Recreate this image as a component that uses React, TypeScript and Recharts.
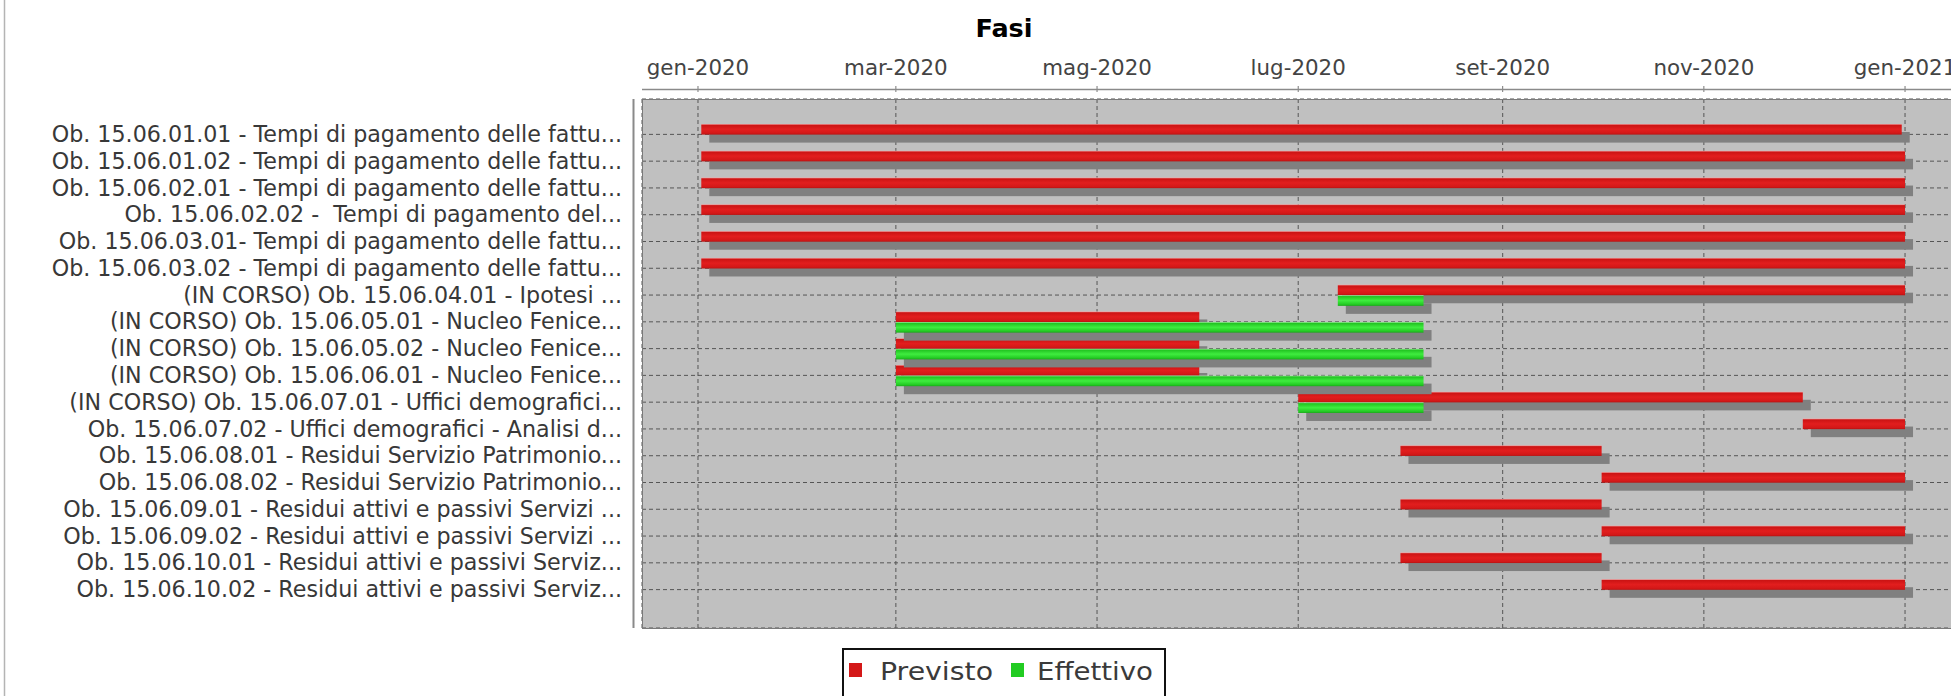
import React from 'react';
import { ComposedChart, Bar, XAxis, YAxis, CartesianGrid } from 'recharts';

// ---------- data ----------
const categories: string[] = [
  'Ob. 15.06.01.01 - Tempi di pagamento delle fattu...',
  'Ob. 15.06.01.02 - Tempi di pagamento delle fattu...',
  'Ob. 15.06.02.01 - Tempi di pagamento delle fattu...',
  'Ob. 15.06.02.02 -  Tempi di pagamento del...',
  'Ob. 15.06.03.01- Tempi di pagamento delle fattu...',
  'Ob. 15.06.03.02 - Tempi di pagamento delle fattu...',
  '(IN CORSO) Ob. 15.06.04.01 - Ipotesi ...',
  '(IN CORSO) Ob. 15.06.05.01 - Nucleo Fenice...',
  '(IN CORSO) Ob. 15.06.05.02 - Nucleo Fenice...',
  '(IN CORSO) Ob. 15.06.06.01 - Nucleo Fenice...',
  '(IN CORSO) Ob. 15.06.07.01 - Uffici demografici...',
  'Ob. 15.06.07.02 - Uffici demografici - Analisi d...',
  'Ob. 15.06.08.01 - Residui Servizio Patrimonio...',
  'Ob. 15.06.08.02 - Residui Servizio Patrimonio...',
  'Ob. 15.06.09.01 - Residui attivi e passivi Servizi ...',
  'Ob. 15.06.09.02 - Residui attivi e passivi Servizi ...',
  'Ob. 15.06.10.01 - Residui attivi e passivi Serviz...',
  'Ob. 15.06.10.02 - Residui attivi e passivi Serviz...',
];

const previstoStart: string[] = [
  '2020-01-02', '2020-01-02', '2020-01-02', '2020-01-02', '2020-01-02', '2020-01-02',
  '2020-07-13', '2020-03-01', '2020-03-01', '2020-03-01', '2020-07-01', '2020-12-01',
  '2020-08-01', '2020-10-01', '2020-08-01', '2020-10-01', '2020-08-01', '2020-10-01',
];
const previstoEnd: string[] = [
  '2020-12-31', '2021-01-01', '2021-01-01', '2021-01-01', '2021-01-01', '2021-01-01',
  '2021-01-01', '2020-06-01', '2020-06-01', '2020-06-01', '2020-12-01', '2021-01-01',
  '2020-10-01', '2021-01-01', '2020-10-01', '2021-01-01', '2020-10-01', '2021-01-01',
];
const effettivoStart: (string | null)[] = [
  null, null, null, null, null, null,
  '2020-07-13', '2020-03-01', '2020-03-01', '2020-03-01', '2020-07-01', null,
  null, null, null, null, null, null,
];
const effettivoEnd: (string | null)[] = [
  null, null, null, null, null, null,
  '2020-08-08', '2020-08-08', '2020-08-08', '2020-08-08', '2020-08-08', null,
  null, null, null, null, null, null,
];

const tickDates: string[] = ['2020-01-01', '2020-03-01', '2020-05-01', '2020-07-01', '2020-09-01', '2020-11-01', '2021-01-01'];
const tickLabels: string[] = ['gen-2020', 'mar-2020', 'mag-2020', 'lug-2020', 'set-2020', 'nov-2020', 'gen-2021'];
const axisRange: string[] = ['2019-12-15T00:30', '2021-01-28T14:00'];

const seriesKeys = ['previsto', 'effettivo'];
const seriesNames = ['Previsto', 'Effettivo'];
const seriesColors = ['#d41818', '#22cc22'];

// ---------- helpers ----------
const ts = (s: string) => Date.parse(s.length === 10 ? s + 'T00:00:00Z' : s + ':00Z');

const rows = categories.map((name, i) => ({
  name,
  previsto: [ts(previstoStart[i]), ts(previstoEnd[i])],
  effettivo: effettivoStart[i] && effettivoEnd[i] ? [ts(effettivoStart[i] as string), ts(effettivoEnd[i] as string)] : null,
}));

const tickValues = tickDates.map(ts);
const labelFor = (v: number) => {
  const i = tickValues.indexOf(v);
  return i >= 0 ? tickLabels[i] : '';
};

// ---------- layout ----------
const W = 2006;
const H = 696;
const PLOT_LEFT = 642;
const PLOT_TOP = 99;
const PLOT_BOTTOM = 628;
const RIGHT_M = 10;
const FONT = '"DejaVu Sans", sans-serif';
const SHADOW_X = 8;
const SHADOW_Y = 8;

const DateTick = (props: any) => {
  const { x, payload } = props;
  return (
    <g>
      <line x1={x} x2={x} y1={PLOT_TOP - 13} y2={PLOT_TOP - 7} stroke="#777" strokeWidth={1} />
      <text x={x} y={PLOT_TOP - 24} textAnchor="middle" fontFamily={FONT} fontSize={21.4} fill="#444">
        {labelFor(payload.value)}
      </text>
    </g>
  );
};

const CatTick = (props: any) => {
  const { y, payload } = props;
  return (
    <text
      x={PLOT_LEFT - 20}
      y={y}
      dy={7.6}
      textAnchor="end"
      fontFamily={FONT}
      fontSize={22.2}
      fill="#383838"
      style={{ whiteSpace: 'pre' }}
    >
      {payload.value}
    </text>
  );
};

const makeShape = (gradId: string) => (props: any) => {
  let { x, y, width, height } = props;
  if (!Number.isFinite(x) || !Number.isFinite(width) || !width || !height) return <g />;
  if (width < 0) {
    x = x + width;
    width = -width;
  }
  return (
    <g>
      <rect x={x + SHADOW_X} y={y + SHADOW_Y} width={width} height={height} fill="#808080" />
      <rect x={x} y={y} width={width} height={height} fill={`url(#${gradId})`} />
    </g>
  );
};

export default function App() {
  const legendX = [849, 1011];
  const legendTextX = [880, 1037];
  const legendTextLen = [113, 116];
  return (
    <div style={{ position: 'absolute', left: 0, top: 0, width: 1951, height: 696, overflow: 'hidden', background: '#fff' }}>
      <div style={{ position: 'absolute', left: 0, top: 0 }}>
        <ComposedChart
          width={W}
          height={H}
          data={rows}
          layout="vertical"
          margin={{ top: 0, right: RIGHT_M, bottom: H - PLOT_BOTTOM, left: 0 }}
          barGap={0}
          barSize={10.6}
        >
          <defs>
            <linearGradient id="gradRed" x1="0" y1="0" x2="0" y2="1">
              <stop offset="0" stopColor="#f4a8a8" />
              <stop offset="0.12" stopColor="#cc1414" />
              <stop offset="0.5" stopColor="#e21e1e" />
              <stop offset="0.85" stopColor="#d41818" />
              <stop offset="1" stopColor="#b81212" />
            </linearGradient>
            <linearGradient id="gradGreen" x1="0" y1="0" x2="0" y2="1">
              <stop offset="0" stopColor="#a8f0a8" />
              <stop offset="0.12" stopColor="#22c422" />
              <stop offset="0.5" stopColor="#3fec3f" />
              <stop offset="0.85" stopColor="#24cc24" />
              <stop offset="1" stopColor="#1aa81a" />
            </linearGradient>
          </defs>
          <CartesianGrid stroke="#555" strokeDasharray="4 3" fill="#c0c0c0" fillOpacity={1} />
          <XAxis
            type="number"
            orientation="top"
            domain={[ts(axisRange[0]), ts(axisRange[1])]}
            ticks={tickValues}
            interval={0}
            allowDataOverflow
            height={PLOT_TOP}
            axisLine={false}
            tickLine={false}
            tick={<DateTick />}
          />
          <YAxis
            type="category"
            dataKey="name"
            width={PLOT_LEFT}
            interval={0}
            axisLine={false}
            tickLine={false}
            padding={{ top: 22, bottom: 25 }}
            tick={<CatTick />}
          />
          <Bar dataKey={seriesKeys[0]} name={seriesNames[0]} fill={seriesColors[0]} shape={makeShape('gradRed')} isAnimationActive={false} />
          <Bar dataKey={seriesKeys[1]} name={seriesNames[1]} fill={seriesColors[1]} shape={makeShape('gradGreen')} isAnimationActive={false} />
        </ComposedChart>
      </div>
      <svg width={W} height={H} style={{ position: 'absolute', left: 0, top: 0, pointerEvents: 'none' }}>
        <line x1={4.5} x2={4.5} y1={0} y2={H} stroke="#b4b4b4" strokeWidth={1.5} />
        <text x={1004} y={37} textAnchor="middle" fontFamily={FONT} fontWeight="bold" fontSize={25.5} fill="#000">
          Fasi
        </text>
        <line x1={PLOT_LEFT} x2={W} y1={89.5} y2={89.5} stroke="#8a8a8a" strokeWidth={1.5} />
        <line x1={633.5} x2={633.5} y1={PLOT_TOP} y2={PLOT_BOTTOM} stroke="#8a8a8a" strokeWidth={2} />
        <rect x={PLOT_LEFT + 0.5} y={PLOT_TOP + 0.5} width={W - RIGHT_M - PLOT_LEFT} height={PLOT_BOTTOM - PLOT_TOP} fill="none" stroke="#7a7a7a" strokeWidth={1} />
        <rect x={843} y={649} width={322} height={60} fill="#fff" stroke="#111" strokeWidth={2} />
        {seriesNames.map((n, i) => (
          <g key={n}>
            <rect x={legendX[i]} y={663} width={13} height={14} fill={seriesColors[i]} />
            <text
              x={legendTextX[i]}
              y={680}
              fontFamily={FONT}
              fontSize={24}
              fill="#3a3a3a"
              textLength={legendTextLen[i]}
              lengthAdjust="spacingAndGlyphs"
            >
              {n}
            </text>
          </g>
        ))}
      </svg>
    </div>
  );
}
